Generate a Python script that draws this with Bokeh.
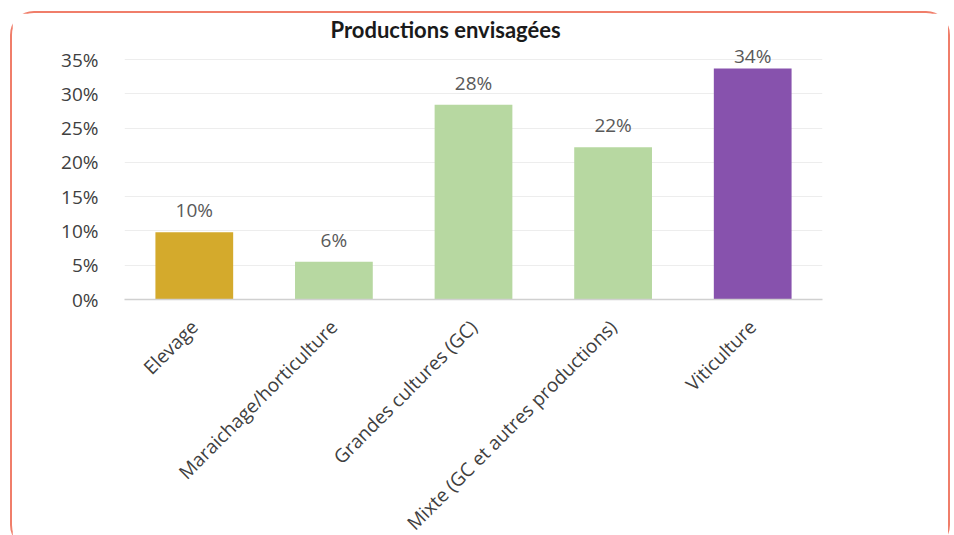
import math
from bokeh.plotting import figure
from bokeh.models import ColumnDataSource, LabelSet, FixedTicker, PrintfTickFormatter, Range1d
from bokeh.core.properties import value
from bokeh.embed import file_html
from bokeh.resources import INLINE

categories = ["Elevage", "Maraichage/horticulture", "Grandes cultures (GC)",
              "Mixte (GC et autres productions)", "Viticulture"]
values = [9.8, 5.5, 28.4, 22.2, 33.7]
bar_colors = ["#D4AA2C", "#B7D8A1", "#B7D8A1", "#B7D8A1", "#8752AD"]
y_ticks = [0, 5, 10, 15, 20, 25, 30, 35]

FONT = "Open Sans"
Y_TOP_TICK = 35
Y_END = 37.5
FRAME_H = 257
px_per_unit = FRAME_H / Y_END

labels = [f"{round(v)}%" for v in values]
offsets = [9 if (Y_TOP_TICK - v) * px_per_unit > 14 else 0 for v in values]

src = ColumnDataSource(dict(cat=categories, val=values, color=bar_colors, lab=labels, off=offsets))

p = figure(x_range=categories, y_range=Range1d(0, Y_END),
           frame_width=698, frame_height=FRAME_H,
           min_border_left=112, min_border_right=126, min_border_top=28, min_border_bottom=234,
           output_backend="svg", toolbar_location=None,
           title="Productions envisagées")
p.styles = {"border": "2px solid #F07E6A", "border-radius": "24px",
            "margin-left": "10px", "margin-top": "11px"}

p.vbar(x="cat", top="val", width=0.557, fill_color="color", line_color=None, source=src)

p.add_layout(LabelSet(x="cat", y="val", text="lab", source=src, y_offset="off",
                      text_align="center", text_baseline="bottom",
                      text_font=value(FONT), text_font_size="19px", text_color="#595959"))

p.title.text_font = "Lato"
p.title.text_font_size = "22px"
p.title.text_font_style = "bold"
p.title.text_color = "#1a1a1a"
p.title.align = "left"
p.title.offset = 206
p.title.standoff = 0

p.outline_line_color = None
p.xgrid.grid_line_color = None
p.ygrid.grid_line_color = "#EDEDED"
p.ygrid.grid_line_width = 1

p.yaxis.ticker = FixedTicker(ticks=y_ticks)
p.yaxis.formatter = PrintfTickFormatter(format="%d%%")
p.yaxis.axis_line_color = None
p.yaxis.major_tick_line_color = None
p.yaxis.minor_tick_line_color = None
p.yaxis.major_label_text_font = FONT
p.yaxis.major_label_text_font_size = "19px"
p.yaxis.major_label_text_color = "#404040"
p.yaxis.major_label_standoff = 20

p.xaxis.axis_line_color = "#D0D0D0"
p.xaxis.axis_line_width = 1.5
p.xaxis.major_tick_line_color = None
p.xaxis.minor_tick_line_color = None
p.xaxis.major_label_orientation = math.pi / 4
p.xaxis.major_label_text_font = FONT
p.xaxis.major_label_text_font_size = "19px"
p.xaxis.major_label_text_color = "#404040"
p.xaxis.major_label_standoff = 18

open("out.html", "w").write(file_html(p, INLINE))
